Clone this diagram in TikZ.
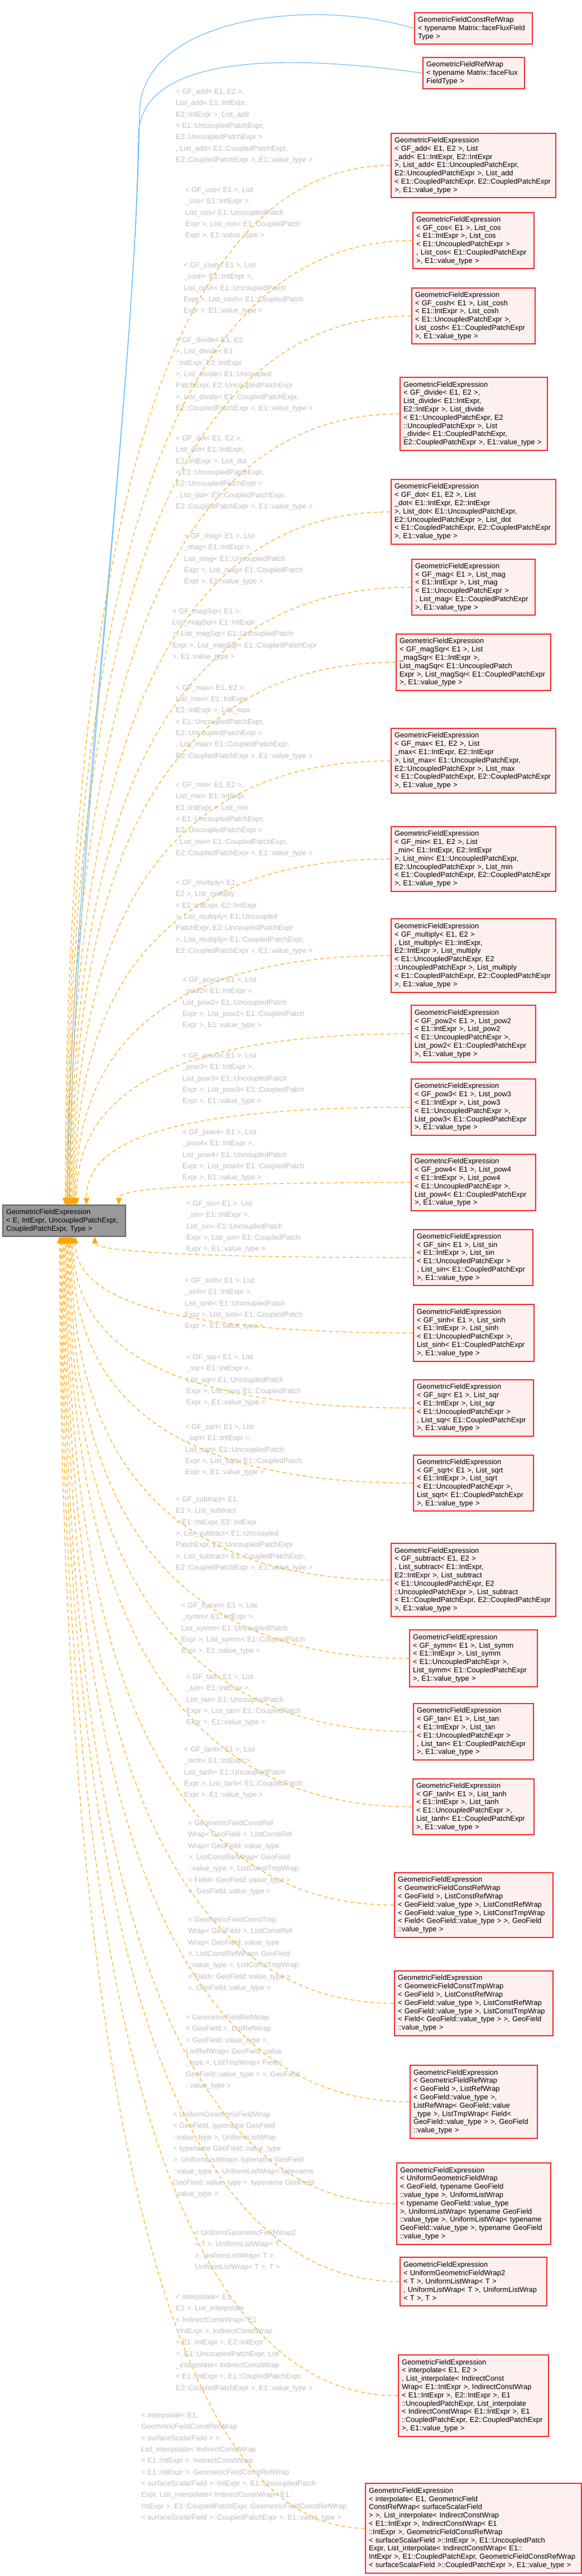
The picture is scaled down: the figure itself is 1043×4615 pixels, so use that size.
\documentclass[tikz,border=0pt]{standalone}
\usepackage{fontspec}
\setmainfont{Liberation Sans}
\usetikzlibrary{arrows.meta}
\usetikzlibrary{calc}
\definecolor{boxfill}{HTML}{FFF0F0}
\definecolor{boxline}{HTML}{F02828}
\definecolor{basefill}{HTML}{999999}
\definecolor{baseline}{HTML}{666666}
\definecolor{lblgray}{HTML}{BEBEBE}
\definecolor{dorange}{HTML}{FFA500}
\definecolor{ublue}{HTML}{63B8FF}

\begin{document}
\begin{tikzpicture}[
		x=1pt, y=-1pt,
		b/.style={draw=boxline, fill=boxfill, line width=1.3pt, align=left, inner xsep=6pt, inner ysep=0pt,
			font=\fontsize{12.9}{14.8}\selectfont},
		g/.style={draw=baseline, fill=basefill, line width=1.3pt, align=left, inner xsep=6pt, inner ysep=0pt,
			font=\fontsize{12.9}{14.8}\selectfont},
		l/.style={text=lblgray, align=left, inner sep=0pt, anchor=north west,
			font=\fontsize{12.9}{20.3}\selectfont},
		d/.style={draw=dorange, line width=1.1pt, dash pattern=on 7pt off 5pt,
			-{Triangle[length=12pt, width=10pt, fill=dorange, line width=0.5pt]}},
		u/.style={draw=ublue, line width=1.1pt, -{Triangle[length=12pt, width=10pt, fill=ublue]}},
	]
		\useasboundingbox (0,0) rectangle (1043,4615);

		% base class
		\node[g, text width=208pt, minimum height=56pt] (Base) at (115,2187)
			{GeometricFieldExpression\\< E, IntExpr, UncoupledPatchExpr,\par\centering CoupledPatchExpr, Type >};

		% derived instances
		\node[b, text width=199pt, minimum height=56pt] (CRWM) at (848.5,51)
			{GeometricFieldConstRefWrap\\< typename Matrix::faceFluxField\par\centering Type >};
		\node[b, text width=170pt, minimum height=56pt] (RWM) at (849,131)
			{GeometricFieldRefWrap\\< typename Matrix::faceFlux\par\centering FieldType >};
		\node[b, text width=283pt, minimum height=115pt] (Add) at (848.5,296.5)
			{GeometricFieldExpression\\< GF\_add< E1, E2 >, List\\\_add< E1::IntExpr, E2::IntExpr\\>, List\_add< E1::UncoupledPatchExpr,\\E2::UncoupledPatchExpr >, List\_add\\< E1::CoupledPatchExpr, E2::CoupledPatchExpr\par\centering >, E1::value\_type >};
		\node[b, text width=205pt, minimum height=100pt] (Cos) at (848.5,431)
			{GeometricFieldExpression\\< GF\_cos< E1 >, List\_cos\\< E1::IntExpr >, List\_cos\\< E1::UncoupledPatchExpr >\\, List\_cos< E1::CoupledPatchExpr\par\centering >, E1::value\_type >};
		\node[b, text width=209pt, minimum height=100pt] (Cosh) at (848.5,566)
			{GeometricFieldExpression\\< GF\_cosh< E1 >, List\_cosh\\< E1::IntExpr >, List\_cosh\\< E1::UncoupledPatchExpr >,\\List\_cosh< E1::CoupledPatchExpr\par\centering >, E1::value\_type >};
		\node[b, text width=252pt, minimum height=131pt] (Divide) at (849,741.5)
			{GeometricFieldExpression\\< GF\_divide< E1, E2 >,\\List\_divide< E1::IntExpr,\\E2::IntExpr >, List\_divide\\< E1::UncoupledPatchExpr, E2\\::UncoupledPatchExpr >, List\\\_divide< E1::CoupledPatchExpr,\par\centering E2::CoupledPatchExpr >, E1::value\_type >};
		\node[b, text width=283pt, minimum height=116pt] (Dot) at (848.5,917)
			{GeometricFieldExpression\\< GF\_dot< E1, E2 >, List\\\_dot< E1::IntExpr, E2::IntExpr\\>, List\_dot< E1::UncoupledPatchExpr,\\E2::UncoupledPatchExpr >, List\_dot\\< E1::CoupledPatchExpr, E2::CoupledPatchExpr\par\centering >, E1::value\_type >};
		\node[b, text width=209pt, minimum height=100pt] (Mag) at (848.5,1052)
			{GeometricFieldExpression\\< GF\_mag< E1 >, List\_mag\\< E1::IntExpr >, List\_mag\\< E1::UncoupledPatchExpr >\\, List\_mag< E1::CoupledPatchExpr\par\centering >, E1::value\_type >};
		\node[b, text width=265pt, minimum height=101pt] (MagSqr) at (848.5,1186.5)
			{GeometricFieldExpression\\< GF\_magSqr< E1 >, List\\\_magSqr< E1::IntExpr >,\\List\_magSqr< E1::UncoupledPatch\\Expr >, List\_magSqr< E1::CoupledPatchExpr\par\centering >, E1::value\_type >};
		\node[b, text width=283pt, minimum height=116pt] (Max) at (848.5,1363)
			{GeometricFieldExpression\\< GF\_max< E1, E2 >, List\\\_max< E1::IntExpr, E2::IntExpr\\>, List\_max< E1::UncoupledPatchExpr,\\E2::UncoupledPatchExpr >, List\_max\\< E1::CoupledPatchExpr, E2::CoupledPatchExpr\par\centering >, E1::value\_type >};
		\node[b, text width=283pt, minimum height=116pt] (Min) at (848.5,1539)
			{GeometricFieldExpression\\< GF\_min< E1, E2 >, List\\\_min< E1::IntExpr, E2::IntExpr\\>, List\_min< E1::UncoupledPatchExpr,\\E2::UncoupledPatchExpr >, List\_min\\< E1::CoupledPatchExpr, E2::CoupledPatchExpr\par\centering >, E1::value\_type >};
		\node[b, text width=283pt, minimum height=132pt] (Multiply) at (848.5,1712)
			{GeometricFieldExpression\\< GF\_multiply< E1, E2 >\\, List\_multiply< E1::IntExpr,\\E2::IntExpr >, List\_multiply\\< E1::UncoupledPatchExpr, E2\\::UncoupledPatchExpr >, List\_multiply\\< E1::CoupledPatchExpr, E2::CoupledPatchExpr\par\centering >, E1::value\_type >};
		\node[b, text width=211pt, minimum height=102pt] (PowB) at (848.5,1852)
			{GeometricFieldExpression\\< GF\_pow2< E1 >, List\_pow2\\< E1::IntExpr >, List\_pow2\\< E1::UncoupledPatchExpr >,\\List\_pow2< E1::CoupledPatchExpr\par\centering >, E1::value\_type >};
		\node[b, text width=211pt, minimum height=101pt] (PowC) at (848.5,1983.5)
			{GeometricFieldExpression\\< GF\_pow3< E1 >, List\_pow3\\< E1::IntExpr >, List\_pow3\\< E1::UncoupledPatchExpr >,\\List\_pow3< E1::CoupledPatchExpr\par\centering >, E1::value\_type >};
		\node[b, text width=211pt, minimum height=101pt] (PowD) at (848.5,2118.5)
			{GeometricFieldExpression\\< GF\_pow4< E1 >, List\_pow4\\< E1::IntExpr >, List\_pow4\\< E1::UncoupledPatchExpr >,\\List\_pow4< E1::CoupledPatchExpr\par\centering >, E1::value\_type >};
		\node[b, text width=202pt, minimum height=100pt] (Sin) at (848,2253)
			{GeometricFieldExpression\\< GF\_sin< E1 >, List\_sin\\< E1::IntExpr >, List\_sin\\< E1::UncoupledPatchExpr >\\, List\_sin< E1::CoupledPatchExpr\par\centering >, E1::value\_type >};
		\node[b, text width=204pt, minimum height=102pt] (Sinh) at (849,2388)
			{GeometricFieldExpression\\< GF\_sinh< E1 >, List\_sinh\\< E1::IntExpr >, List\_sinh\\< E1::UncoupledPatchExpr >,\\List\_sinh< E1::CoupledPatchExpr\par\centering >, E1::value\_type >};
		\node[b, text width=203pt, minimum height=101pt] (Sqr) at (848.5,2522.5)
			{GeometricFieldExpression\\< GF\_sqr< E1 >, List\_sqr\\< E1::IntExpr >, List\_sqr\\< E1::UncoupledPatchExpr >\\, List\_sqr< E1::CoupledPatchExpr\par\centering >, E1::value\_type >};
		\node[b, text width=203pt, minimum height=100pt] (Sqrt) at (848.5,2657)
			{GeometricFieldExpression\\< GF\_sqrt< E1 >, List\_sqrt\\< E1::IntExpr >, List\_sqrt\\< E1::UncoupledPatchExpr >,\\List\_sqrt< E1::CoupledPatchExpr\par\centering >, E1::value\_type >};
		\node[b, text width=283pt, minimum height=131pt] (Subtract) at (848.5,2830.5)
			{GeometricFieldExpression\\< GF\_subtract< E1, E2 >\\, List\_subtract< E1::IntExpr,\\E2::IntExpr >, List\_subtract\\< E1::UncoupledPatchExpr, E2\\::UncoupledPatchExpr >, List\_subtract\\< E1::CoupledPatchExpr, E2::CoupledPatchExpr\par\centering >, E1::value\_type >};
		\node[b, text width=217pt, minimum height=102pt] (Symm) at (848.5,2971)
			{GeometricFieldExpression\\< GF\_symm< E1 >, List\_symm\\< E1::IntExpr >, List\_symm\\< E1::UncoupledPatchExpr >,\\List\_symm< E1::CoupledPatchExpr\par\centering >, E1::value\_type >};
		\node[b, text width=203pt, minimum height=101pt] (Tan) at (848.5,3102.5)
			{GeometricFieldExpression\\< GF\_tan< E1 >, List\_tan\\< E1::IntExpr >, List\_tan\\< E1::UncoupledPatchExpr >\\, List\_tan< E1::CoupledPatchExpr\par\centering >, E1::value\_type >};
		\node[b, text width=205pt, minimum height=100pt] (Tanh) at (848.5,3237)
			{GeometricFieldExpression\\< GF\_tanh< E1 >, List\_tanh\\< E1::IntExpr >, List\_tanh\\< E1::UncoupledPatchExpr >,\\List\_tanh< E1::CoupledPatchExpr\par\centering >, E1::value\_type >};
		\node[b, text width=272pt, minimum height=116pt] (CRW) at (849,3413)
			{GeometricFieldExpression\\< GeometricFieldConstRefWrap\\< GeoField >, ListConstRefWrap\\< GeoField::value\_type >, ListConstRefWrap\\< GeoField::value\_type >, ListConstTmpWrap\\< Field< GeoField::value\_type > >, GeoField\par\centering ::value\_type >};
		\node[b, text width=272pt, minimum height=116pt] (CTW) at (849,3589)
			{GeometricFieldExpression\\< GeometricFieldConstTmpWrap\\< GeoField >, ListConstRefWrap\\< GeoField::value\_type >, ListConstRefWrap\\< GeoField::value\_type >, ListConstTmpWrap\\< Field< GeoField::value\_type > >, GeoField\par\centering ::value\_type >};
		\node[b, text width=216pt, minimum height=131pt] (RW) at (849,3765.5)
			{GeometricFieldExpression\\< GeometricFieldRefWrap\\< GeoField >, ListRefWrap\\< GeoField::value\_type >,\\ListRefWrap< GeoField::value\\\_type >, ListTmpWrap< Field<\\GeoField::value\_type > >, GeoField\par\centering ::value\_type >};
		\node[b, text width=264pt, minimum height=146pt] (UW) at (849,3948)
			{GeometricFieldExpression\\< UniformGeometricFieldWrap\\< GeoField, typename GeoField\\::value\_type >, UniformListWrap\\< typename GeoField::value\_type\\>, UniformListWrap< typename GeoField\\::value\_type >, UniformListWrap< typename\\GeoField::value\_type >, typename GeoField\par\centering ::value\_type >};
		\node[b, text width=251pt, minimum height=87pt] (UWB) at (848.5,4087.5)
			{GeometricFieldExpression\\< UniformGeometricFieldWrap2\\< T >, UniformListWrap< T >\\, UniformListWrap< T >, UniformListWrap\par\centering < T >, T >};
		\node[b, text width=257pt, minimum height=146pt] (InterpA) at (848.5,4292)
			{GeometricFieldExpression\\< interpolate< E1, E2 >\\, List\_interpolate< IndirectConst\\Wrap< E1::IntExpr >, IndirectConstWrap\\< E1::IntExpr >, E2::IntExpr >, E1\\::UncoupledPatchExpr, List\_interpolate\\< IndirectConstWrap< E1::IntExpr >, E1\\::CoupledPatchExpr, E2::CoupledPatchExpr\par\centering >, E1::value\_type >};
		\node[b, text width=375pt, minimum height=161pt] (InterpB) at (848.5,4529.5)
			{GeometricFieldExpression\\< interpolate< E1, GeometricField\\ConstRefWrap< surfaceScalarField\\> >, List\_interpolate< IndirectConstWrap\\< E1::IntExpr >, IndirectConstWrap< E1\\::IntExpr >, GeometricFieldConstRefWrap\\< surfaceScalarField >::IntExpr >, E1::UncoupledPatch\\Expr, List\_interpolate< IndirectConstWrap< E1::\\IntExpr >, E1::CoupledPatchExpr, GeometricFieldConstRefWrap\par\centering < surfaceScalarField >::CoupledPatchExpr >, E1::value\_type >};

		% template argument labels
		\node[l] at (315,159) {< GF\_add< E1, E2 >,\\List\_add< E1::IntExpr,\\E2::IntExpr >, List\_add\\< E1::UncoupledPatchExpr,\\E2::UncoupledPatchExpr >\\, List\_add< E1::CoupledPatchExpr,\\E2::CoupledPatchExpr >, E1::value\_type >};
		\node[l] at (332,335) {< GF\_cos< E1 >, List\\\_cos< E1::IntExpr >,\\List\_cos< E1::UncoupledPatch\\Expr >, List\_cos< E1::CoupledPatch\\Expr >, E1::value\_type >};
		\node[l] at (329,470) {< GF\_cosh< E1 >, List\\\_cosh< E1::IntExpr >,\\List\_cosh< E1::UncoupledPatch\\Expr >, List\_cosh< E1::CoupledPatch\\Expr >, E1::value\_type >};
		\node[l] at (315,604) {< GF\_divide< E1, E2\\>, List\_divide< E1\\::IntExpr, E2::IntExpr\\>, List\_divide< E1::Uncoupled\\PatchExpr, E2::UncoupledPatchExpr\\>, List\_divide< E1::CoupledPatchExpr,\\E2::CoupledPatchExpr >, E1::value\_type >};
		\node[l] at (315,780) {< GF\_dot< E1, E2 >,\\List\_dot< E1::IntExpr,\\E2::IntExpr >, List\_dot\\< E1::UncoupledPatchExpr,\\E2::UncoupledPatchExpr >\\, List\_dot< E1::CoupledPatchExpr,\\E2::CoupledPatchExpr >, E1::value\_type >};
		\node[l] at (330,955) {< GF\_mag< E1 >, List\\\_mag< E1::IntExpr >,\\List\_mag< E1::UncoupledPatch\\Expr >, List\_mag< E1::CoupledPatch\\Expr >, E1::value\_type >};
		\node[l] at (309,1090) {< GF\_magSqr< E1 >,\\List\_magSqr< E1::IntExpr\\>, List\_magSqr< E1::UncoupledPatch\\Expr >, List\_magSqr< E1::CoupledPatchExpr\\>, E1::value\_type >};
		\node[l] at (315,1227) {< GF\_max< E1, E2 >,\\List\_max< E1::IntExpr,\\E2::IntExpr >, List\_max\\< E1::UncoupledPatchExpr,\\E2::UncoupledPatchExpr >\\, List\_max< E1::CoupledPatchExpr,\\E2::CoupledPatchExpr >, E1::value\_type >};
		\node[l] at (315,1401) {< GF\_min< E1, E2 >,\\List\_min< E1::IntExpr,\\E2::IntExpr >, List\_min\\< E1::UncoupledPatchExpr,\\E2::UncoupledPatchExpr >\\, List\_min< E1::CoupledPatchExpr,\\E2::CoupledPatchExpr >, E1::value\_type >};
		\node[l] at (315,1576) {< GF\_multiply< E1,\\E2 >, List\_multiply\\< E1::IntExpr, E2::IntExpr\\>, List\_multiply< E1::Uncoupled\\PatchExpr, E2::UncoupledPatchExpr\\>, List\_multiply< E1::CoupledPatchExpr,\\E2::CoupledPatchExpr >, E1::value\_type >};
		\node[l] at (327,1750) {< GF\_pow2< E1 >, List\\\_pow2< E1::IntExpr >,\\List\_pow2< E1::UncoupledPatch\\Expr >, List\_pow2< E1::CoupledPatch\\Expr >, E1::value\_type >};
		\node[l] at (327,1886) {< GF\_pow3< E1 >, List\\\_pow3< E1::IntExpr >,\\List\_pow3< E1::UncoupledPatch\\Expr >, List\_pow3< E1::CoupledPatch\\Expr >, E1::value\_type >};
		\node[l] at (327,2023) {< GF\_pow4< E1 >, List\\\_pow4< E1::IntExpr >,\\List\_pow4< E1::UncoupledPatch\\Expr >, List\_pow4< E1::CoupledPatch\\Expr >, E1::value\_type >};
		\node[l] at (334,2151) {< GF\_sin< E1 >, List\\\_sin< E1::IntExpr >,\\List\_sin< E1::UncoupledPatch\\Expr >, List\_sin< E1::CoupledPatch\\Expr >, E1::value\_type >};
		\node[l] at (331,2289) {< GF\_sinh< E1 >, List\\\_sinh< E1::IntExpr >,\\List\_sinh< E1::UncoupledPatch\\Expr >, List\_sinh< E1::CoupledPatch\\Expr >, E1::value\_type >};
		\node[l] at (334,2426) {< GF\_sqr< E1 >, List\\\_sqr< E1::IntExpr >,\\List\_sqr< E1::UncoupledPatch\\Expr >, List\_sqr< E1::CoupledPatch\\Expr >, E1::value\_type >};
		\node[l] at (332,2551) {< GF\_sqrt< E1 >, List\\\_sqrt< E1::IntExpr >,\\List\_sqrt< E1::UncoupledPatch\\Expr >, List\_sqrt< E1::CoupledPatch\\Expr >, E1::value\_type >};
		\node[l] at (315,2681) {< GF\_subtract< E1,\\E2 >, List\_subtract\\< E1::IntExpr, E2::IntExpr\\>, List\_subtract< E1::Uncoupled\\PatchExpr, E2::UncoupledPatchExpr\\>, List\_subtract< E1::CoupledPatchExpr,\\E2::CoupledPatchExpr >, E1::value\_type >};
		\node[l] at (325,2871) {< GF\_symm< E1 >, List\\\_symm< E1::IntExpr >,\\List\_symm< E1::UncoupledPatch\\Expr >, List\_symm< E1::CoupledPatch\\Expr >, E1::value\_type >};
		\node[l] at (334,2999) {< GF\_tan< E1 >, List\\\_tan< E1::IntExpr >,\\List\_tan< E1::UncoupledPatch\\Expr >, List\_tan< E1::CoupledPatch\\Expr >, E1::value\_type >};
		\node[l] at (330,3129) {< GF\_tanh< E1 >, List\\\_tanh< E1::IntExpr >,\\List\_tanh< E1::UncoupledPatch\\Expr >, List\_tanh< E1::CoupledPatch\\Expr >, E1::value\_type >};
		\node[l] at (337,3261) {< GeometricFieldConstRef\\Wrap< GeoField >, ListConstRef\\Wrap< GeoField::value\_type\\>, ListConstRefWrap< GeoField\\::value\_type >, ListConstTmpWrap\\< Field< GeoField::value\_type >\\>, GeoField::value\_type >};
		\node[l] at (337,3434) {< GeometricFieldConstTmp\\Wrap< GeoField >, ListConstRef\\Wrap< GeoField::value\_type\\>, ListConstRefWrap< GeoField\\::value\_type >, ListConstTmpWrap\\< Field< GeoField::value\_type >\\>, GeoField::value\_type >};
		\node[l] at (333,3609) {< GeometricFieldRefWrap\\< GeoField >, ListRefWrap\\< GeoField::value\_type >,\\ListRefWrap< GeoField::value\\\_type >, ListTmpWrap< Field<\\GeoField::value\_type > >, GeoField\\::value\_type >};
		\node[l] at (310,3783) {< UniformGeometricFieldWrap\\< GeoField, typename GeoField\\::value\_type >, UniformListWrap\\< typename GeoField::value\_type\\>, UniformListWrap< typename GeoField\\::value\_type >, UniformListWrap< typename\\GeoField::value\_type >, typename GeoField\\::value\_type >};
		\node[l] at (349,3995) {< UniformGeometricFieldWrap2\\< T >, UniformListWrap< T\\>, UniformListWrap< T >,\\UniformListWrap< T >, T >};
		\node[l] at (315,4110) {< interpolate< E1,\\E2 >, List\_interpolate\\< IndirectConstWrap< E1\\::IntExpr >, IndirectConstWrap\\< E1::IntExpr >, E2::IntExpr\\>, E1::UncoupledPatchExpr, List\\\_interpolate< IndirectConstWrap\\< E1::IntExpr >, E1::CoupledPatchExpr,\\E2::CoupledPatchExpr >, E1::value\_type >};
		\node[l] at (253,4322) {< interpolate< E1,\\GeometricFieldConstRefWrap\\< surfaceScalarField > >,\\List\_interpolate< IndirectConstWrap\\< E1::IntExpr >, IndirectConstWrap\\< E1::IntExpr >, GeometricFieldConstRefWrap\\< surfaceScalarField >::IntExpr >, E1::UncoupledPatch\\Expr, List\_interpolate< IndirectConstWrap< E1::\\IntExpr >, E1::CoupledPatchExpr, GeometricFieldConstRefWrap\\< surfaceScalarField >::CoupledPatchExpr >, E1::value\_type >};

		% usage edges
		\draw[u] (CRWM.west) .. controls (560,-5) and (255,30) .. (250,200)
			.. controls (245,700) and (121,1600) .. ([xshift=6pt]Base.north);
		\draw[u] (RWM.west) .. controls (500,95) and (255,100) .. (248,240)
			.. controls (243,700) and (125,1600) .. ([xshift=10pt]Base.north);

		% instantiation edges
		\foreach \c/\s in {Add/2, Cos/4, Cosh/6, Divide/8, Dot/10, Mag/12, MagSqr/14, Max/16,
				Min/18, Multiply/20, PowB/22, PowC/40, PowD/98}
			\draw[d] let \p1=(\c.west), \p2=([xshift=\s pt]Base.north), \n1={\y2+0.55*(\y1-\y2)} in
				(\c.west) .. controls (250pt,\y1) and (\x2,\n1) .. (\p2);
		\foreach \c/\s in {Sin/55, Sinh/20, Sqr/16, Sqrt/14, Subtract/12, Symm/10, Tan/8, Tanh/6,
				CRW/4, CTW/2, RW/0, UW/-2, UWB/-4, InterpA/-6, InterpB/-8}
			\draw[d] let \p1=(\c.west), \p2=([xshift=\s pt]Base.south), \n1={\y2+0.55*(\y1-\y2)} in
				(\c.west) .. controls (250pt,\y1) and (\x2,\n1) .. (\p2);
	\end{tikzpicture}
\end{document}
